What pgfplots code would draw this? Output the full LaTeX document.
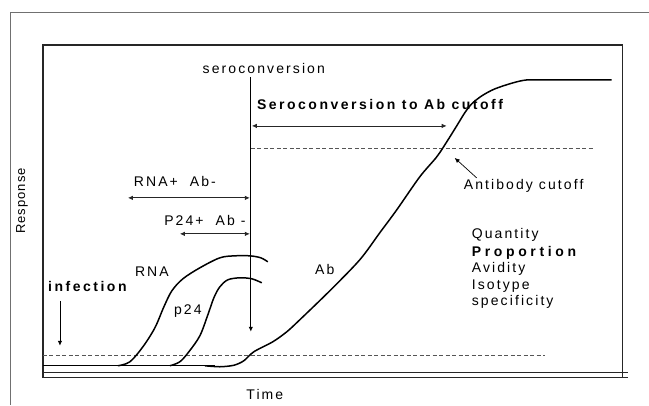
\documentclass[border=0pt]{standalone}
\usepackage{fontspec}
\setmainfont{Liberation Sans}
\newfontfamily\lab[LetterSpace=15]{Liberation Sans}
\newfontfamily\labb[LetterSpace=18]{Liberation Sans}
\newfontfamily\labp[LetterSpace=26]{Liberation Sans}
\newfontfamily\labr[LetterSpace=8]{Liberation Sans}
\usepackage{pgfplots}
\pgfplotsset{compat=1.18}
\usetikzlibrary{arrows.meta}
\definecolor{framegray}{HTML}{707070}
\definecolor{dashgray}{HTML}{555555}
\begin{document}
\begin{tikzpicture}[
  txt/.style={font=\lab\fontsize{14}{16}\selectfont, text=black, inner sep=0pt},
  arr/.style={-{Latex[length=5pt,width=4.5pt]}, line width=0.8pt},
  darr/.style={{Latex[length=5pt,width=4.5pt]}-{Latex[length=5pt,width=4.5pt]}, line width=0.8pt, draw=black!85},
]
\begin{axis}[
  scale only axis, width=580pt, height=333pt,
  xmin=43, xmax=623, ymin=45, ymax=378,
  y dir=reverse,
  xtick=\empty, ytick=\empty,
  axis line style={line width=1.4pt, black!85},
  clip=false,
]
% invisible page frame
\path (axis cs:0,0) rectangle (axis cs:649,405);
% outer frame
\draw[framegray, line width=0.9pt] (axis cs:10,405) -- (axis cs:10,12) -- (axis cs:649,12);
% double bottom line
\draw[black!85, line width=1.4pt] (axis cs:43,373) -- (axis cs:628,373);
\draw[black!85, line width=1.4pt] (axis cs:43,378) -- (axis cs:628,378);
% dashed lines
\addplot[dashgray, line width=0.8pt, dash pattern=on 4pt off 2.5pt] coordinates {(251,148) (595,148)};
\addplot[dashgray, line width=0.8pt, dash pattern=on 4pt off 2.5pt] coordinates {(43,356) (545,356)};
% baseline
\addplot[black, line width=1.3pt] coordinates {(43,366) (215,366)};
% RNA
\addplot[black, line width=1.5pt, smooth, tension=0.55] coordinates {
 (118,366) (130,362) (143,347) (155,328) (164,307) (172,291) (183,279) (200,268) (220,258) (235,256) (250,256) (261,258) (268,262)};
% p24
\addplot[black, line width=1.5pt, smooth, tension=0.55] coordinates {
 (170,366) (180,362) (189,352) (200,336) (208,315) (214,298) (220,287) (228,280) (240,278) (252,279) (262,283)};
% Ab
\addplot[black, line width=1.5pt, smooth, tension=0.5] coordinates {
 (205,366) (220,367) (234,365.5) (244,361) (254,352) (273,342) (287,332) (300,320) (330,291) (360,260) (380,233) (397,210) (420,177) (437,157) (447,142) (457,126) (465,113) (472,104) (482,96) (495,89) (513,83) (527,80) (547,80) (612,80)};
% seroconversion vertical arrow
\draw[arr, line width=1.3pt] (axis cs:251,77) -- (axis cs:251,332);
% double arrows
\draw[darr] (axis cs:252,126) -- (axis cs:447,126);
\draw[darr] (axis cs:128,198) -- (axis cs:250,198);
\draw[darr] (axis cs:180,234) -- (axis cs:250,234);
% antibody cutoff arrow
\draw[arr, line width=0.7pt] (axis cs:477,178) -- (axis cs:455,158);
% infection arrow
\draw[arr, line width=0.8pt] (axis cs:60,301) -- (axis cs:60,346);
% texts
\node[txt] at (axis cs:264,69) {seroconversion};
\node[txt, font=\labb\fontsize{14}{16}\selectfont\bfseries, anchor=west] at (axis cs:257,105) {Seroconversion to Ab cutoff};
\node[txt] at (axis cs:175,182) {RNA+\ \ Ab-};
\node[txt] at (axis cs:205,221) {P24+\ \ Ab -};
\node[txt] at (axis cs:524,186) {Antibody cutoff};
\node[txt] at (axis cs:152,272) {RNA};
\node[txt] at (axis cs:188,311) {p24};
\node[txt] at (axis cs:325,270) {Ab};
\node[txt, font=\labb\fontsize{14}{16}\selectfont\bfseries, anchor=west] at (axis cs:48,287) {infection};
\node[txt, anchor=west] at (axis cs:472,235) {Quantity};
\node[txt, font=\labp\fontsize{14}{16}\selectfont\bfseries, anchor=west] at (axis cs:472,253) {Proportion};
\node[txt, anchor=west] at (axis cs:472,269) {Avidity};
\node[txt, anchor=west] at (axis cs:472,286) {Isotype};
\node[txt, anchor=west] at (axis cs:472,302) {specificity};
\node[txt] at (axis cs:265,395) {Time};
\node[txt, font=\labr\fontsize{13}{15}\selectfont, rotate=90] at (axis cs:22,201) {Response};
\end{axis}
\end{tikzpicture}
\end{document}
